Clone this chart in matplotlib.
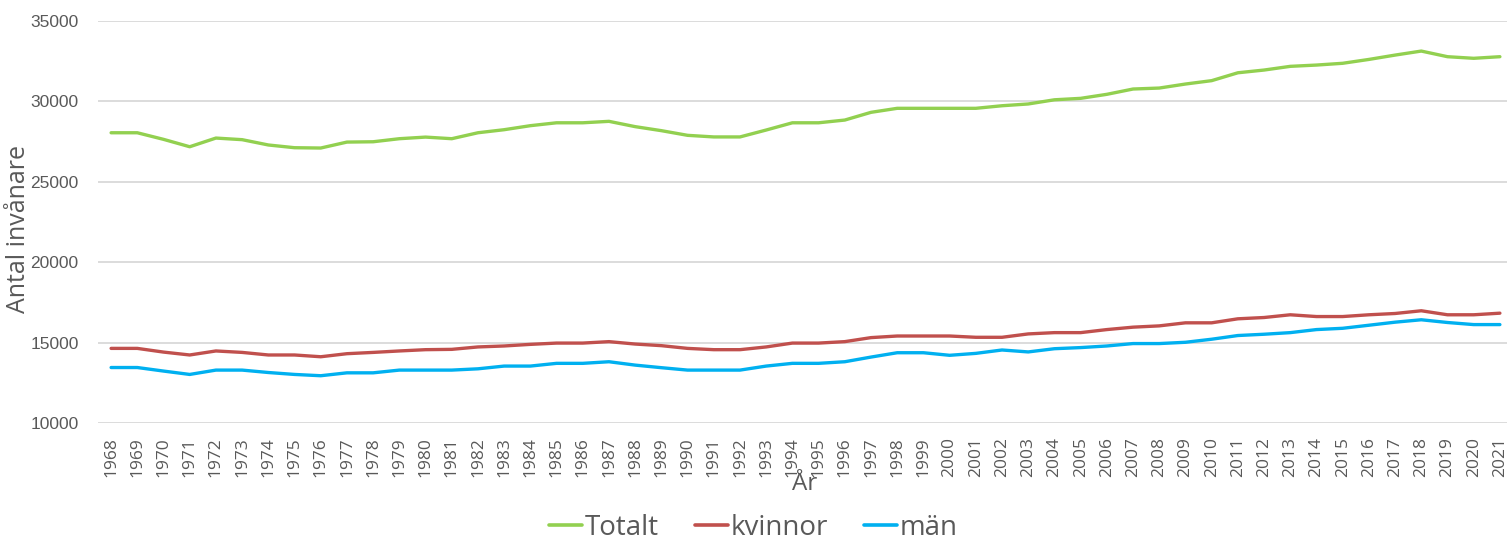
import matplotlib
matplotlib.use("Agg")
import matplotlib.pyplot as plt
from matplotlib import font_manager

years = list(range(1968, 2022))

totalt = [28050, 28050, 27640, 27180, 27720, 27620, 27290, 27120, 27100, 27470,
          27490, 27680, 27780, 27680, 28050, 28240, 28490, 28670, 28670, 28760,
          28430, 28180, 27890, 27790, 27790, 28220, 28670, 28670, 28840, 29320,
          29570, 29570, 29570, 29570, 29730, 29840, 30100, 30190, 30440, 30770,
          30830, 31080, 31290, 31780, 31950, 32180, 32260, 32370, 32610, 32880,
          33130, 32780, 32680, 32780]

kvinnor = [14640, 14640, 14410, 14230, 14480, 14390, 14230, 14230, 14120, 14310,
           14390, 14480, 14560, 14580, 14730, 14790, 14890, 14970, 14970, 15060,
           14910, 14810, 14640, 14560, 14560, 14730, 14970, 14970, 15060, 15310,
           15410, 15410, 15410, 15330, 15330, 15540, 15620, 15620, 15810, 15960,
           16040, 16230, 16230, 16480, 16560, 16730, 16620, 16620, 16730, 16810,
           16980, 16730, 16730, 16830]

man = [13450, 13450, 13230, 13020, 13290, 13290, 13140, 13020, 12940, 13120,
       13120, 13290, 13290, 13290, 13370, 13540, 13540, 13710, 13710, 13810,
       13600, 13440, 13290, 13290, 13290, 13540, 13710, 13710, 13810, 14100,
       14370, 14370, 14210, 14330, 14540, 14420, 14620, 14690, 14790, 14940,
       14940, 15020, 15210, 15440, 15520, 15620, 15810, 15890, 16080, 16270,
       16420, 16250, 16120, 16120]

series_names = ["Totalt", "kvinnor", "män"]
colors = ["#92D050", "#C0504D", "#00B0F0"]
yticks = [10000, 15000, 20000, 25000, 30000, 35000]

avail = {f.name for f in font_manager.fontManager.ttflist}
num_font = "Liberation Sans Narrow" if "Liberation Sans Narrow" in avail else "Liberation Sans"
txt_font = "Open Sans"
gray = "#595959"

W, H = 1507, 543
fig = plt.figure(figsize=(W / 100, H / 100), dpi=100)
ax = fig.add_axes([98 / W, (H - 423) / H, 1415 / W, 402 / H])

x = list(range(len(years)))
for vals, name, c in zip([totalt, kvinnor, man], series_names, colors):
    ax.plot(x, vals, color=c, lw=2.4, label=name, solid_capstyle="round", solid_joinstyle="round")

ax.set_xlim(-0.5, len(years) - 0.5)
ax.set_ylim(10000, 35000)
ax.set_yticks(yticks)
ax.set_yticklabels([str(v) for v in yticks], fontfamily=num_font, fontsize=12.5, color=gray)
ax.set_xticks(x)
ax.set_xticklabels([str(y) for y in years], rotation=90, fontfamily=txt_font, fontsize=12.5, color=gray)
ax.tick_params(axis="y", length=0, pad=14)
ax.tick_params(axis="x", length=0, pad=10)
ax.grid(axis="y", color="#D9D9D9", lw=1.3)
ax.set_axisbelow(True)
for s in ax.spines.values():
    s.set_visible(False)

fig.text(19 / W, 1 - 229 / H, "Antal invånare", rotation=90, ha="center", va="center",
         fontfamily=txt_font, fontsize=18, color=gray)
fig.text(805 / W, 1 - 490 / H, "År", ha="center", va="baseline",
         fontfamily=txt_font, fontsize=17.5, color=gray)

leg = fig.legend(loc="center", bbox_to_anchor=(753 / W, 1 - 528 / H), ncol=3, frameon=False,
                 prop={"family": txt_font, "size": 20}, handlelength=1.2, handletextpad=0.08,
                 columnspacing=1.3, borderaxespad=0, borderpad=0)
for t in leg.get_texts():
    t.set_color(gray)
for l in leg.get_lines():
    l.set_linewidth(2.6)

fig.savefig("out.png", dpi=100)
